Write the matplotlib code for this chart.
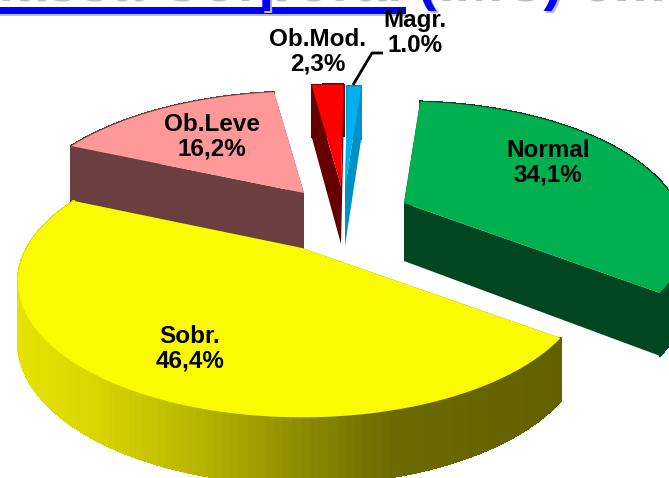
import numpy as np
import matplotlib
matplotlib.use('Agg')
import matplotlib.pyplot as plt
from matplotlib.collections import PolyCollection
from matplotlib.patches import Polygon, Rectangle

plt.rcParams['font.family'] = ['Liberation Sans', 'DejaVu Sans']

labels = ['Sobr.', 'Ob.Leve', 'Ob.Mod.', 'Magr.', 'Normal']
shares = [46.4, 16.2, 2.3, 1.0, 34.1]
share_text = ['46,4%', '16,2%', '2,3%', '1.0%', '34,1%']

top_colors = ['#fbfb00', '#ff9999', '#ff0000', '#00b0f0', '#00b050']
wall_colors = ['#807c00', '#6b3f3f', '#660000', '#0090c8', '#004620']
# where the tip of each exploded slice ends up, in pixels
tips = [(302, 248), (304, 193), (341, 186), (345, 188), (404, 203)]
x_scale = [1.0, 1.02, 1.0, 1.0, 0.99]
label_pos = [(190, 349), (212, 137), (318, 52), (415, 33), (548, 163)]

start_angle = 37.0
A = 275.0
B = 127.0
K = 0.25
DEPTH = 58.0


def project(tip, angle, sx=1.0, z=0.0):
    u = np.cos(np.radians(angle))
    v = np.sin(np.radians(angle))
    s = 1.0 / (1.0 - K * v)
    x = tip[0] + A * sx * u * s
    y = tip[1] + B * v * s + z * np.sqrt(s)
    return x, y


def wall_shade(x):
    r = np.interp(x, [17, 100, 200, 300, 340, 400, 560], [230, 216, 184, 143, 128, 107, 98])
    return (r / 255, r / 255 * 0.985, 0)


fig = plt.figure(figsize=(6.69, 4.78), dpi=100)
ax = fig.add_axes([0, 0, 1, 1])
ax.set_xlim(0, 669)
ax.set_ylim(478, 0)
ax.axis('off')

# clipped title from the slide above the chart
ax.text(-35, 1, 'Massa Corporal (IMC) em', color='#bbbbbb', fontsize=42, fontweight='bold', va='baseline')
ax.text(-37, -1, 'Massa Corporal (IMC) em', color='#0000ff', fontsize=42, fontweight='bold', va='baseline')
ax.add_patch(Rectangle((0, 14), 406, 2, color='#bbbbbb', lw=0))
ax.add_patch(Rectangle((0, 7), 406, 7, color='#0000ff', lw=0))

spans = []
a = start_angle
for p in shares:
    spans.append((a, a + p * 3.6))
    a += p * 3.6

# back slices first, the big yellow one goes over the others
order = [1, 2, 3, 4, 0]
for i in order:
    a0, a1 = spans[i]
    tip = tips[i]
    ang = np.linspace(a0, a1, 120)
    top = np.array([project(tip, t, x_scale[i]) for t in ang])
    low = np.array([project(tip, t, x_scale[i], DEPTH) for t in ang])
    tip_low = (tip[0], tip[1] + DEPTH)

    for end_top, end_low in [(top[0], low[0]), (top[-1], low[-1])]:
        ax.add_patch(Polygon([tip, end_top, end_low, tip_low], color=wall_colors[i], lw=0))

    quads = [[top[j], top[j + 1], low[j + 1], low[j]] for j in range(len(ang) - 1)]
    if i == 0:
        cols = [wall_shade(q[0][0]) for q in quads]
    else:
        cols = [wall_colors[i]] * len(quads)
    ax.add_collection(PolyCollection(quads, facecolors=cols, edgecolors=cols, linewidths=1.0, antialiaseds=False))

    ax.add_patch(Polygon(np.vstack([[tip], top]), color=top_colors[i], lw=0))

for name, pct, pos in zip(labels, share_text, label_pos):
    ax.text(pos[0], pos[1], name + '\n' + pct, ha='center', va='center', fontsize=17.5,
            fontweight='bold', color='black', linespacing=1.1)

ax.plot([353, 372, 383], [85, 53, 53], color='black', lw=2, solid_capstyle='butt')

fig.savefig('out.png', dpi=100)
